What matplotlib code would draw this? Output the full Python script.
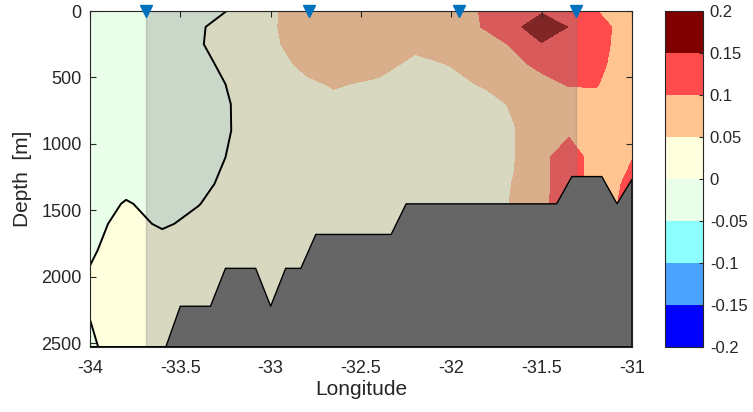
import numpy as np
import matplotlib
matplotlib.use("Agg")
import matplotlib.pyplot as plt
from matplotlib.colors import ListedColormap, BoundaryNorm
from matplotlib.cm import ScalarMappable
from matplotlib.patches import Rectangle

plt.rcParams["font.family"] = ["Liberation Sans", "DejaVu Sans"]
plt.rcParams["axes.unicode_minus"] = False

# section grid (longitude x depth)
lon = [-34.0, -33.8, -33.6, -33.4, -33.2, -33.0, -32.8, -32.65, -32.4,
       -32.2, -32.0, -31.8, -31.65, -31.5, -31.35, -31.2, -31.1, -31.0]
depth = [0, 120, 250, 400, 550, 700, 900, 1100, 1300, 1450,
         1600, 1800, 2000, 2250, 2530]

anom = [
    [-0.030, -0.030, -0.025, -0.020, 0.0056, 0.046, 0.064, 0.070, 0.075, 0.080, 0.085, 0.105, 0.125, 0.142, 0.140, 0.101, 0.090, 0.080],
    [-0.030, -0.030, -0.020, -0.003, 0.012, 0.047, 0.062, 0.068, 0.072, 0.075, 0.082, 0.104, 0.135, 0.190, 0.148, 0.120, 0.097, 0.085],
    [-0.030, -0.028, -0.018, -0.003, 0.017, 0.046, 0.060, 0.066, 0.066, 0.056, 0.068, 0.088, 0.104, 0.145, 0.135, 0.120, 0.095, 0.080],
    [-0.030, -0.028, -0.020, -0.010, 0.012, 0.040, 0.056, 0.062, 0.058, 0.044, 0.051, 0.070, 0.092, 0.108, 0.120, 0.115, 0.090, 0.075],
    [-0.030, -0.028, -0.022, -0.012, 0.004, 0.035, 0.046, 0.052, 0.046, 0.040, 0.044, 0.053, 0.070, 0.090, 0.102, 0.103, 0.085, 0.072],
    [-0.030, -0.027, -0.022, -0.014, 0.0016, 0.030, 0.040, 0.044, 0.040, 0.038, 0.040, 0.043, 0.053, 0.075, 0.085, 0.085, 0.080, 0.070],
    [-0.028, -0.025, -0.022, -0.014, 0.0014, 0.025, 0.035, 0.038, 0.035, 0.036, 0.038, 0.042, 0.049, 0.070, 0.090, 0.080, 0.080, 0.075],
    [-0.025, -0.020, -0.020, -0.012, 0.004, 0.022, 0.030, 0.035, 0.035, 0.035, 0.038, 0.042, 0.049, 0.085, 0.130, 0.076, 0.085, 0.098],
    [-0.020, -0.010, -0.015, -0.008, 0.010, 0.020, 0.030, 0.035, 0.035, 0.035, 0.040, 0.042, 0.051, 0.085, 0.130, 0.076, 0.090, 0.115],
    [-0.015, 0.0025, -0.010, -0.001, 0.015, 0.020, 0.030, 0.035, 0.035, 0.035, 0.040, 0.042, 0.052, 0.090, 0.125, 0.076, 0.095, 0.120],
    [-0.010, 0.010, -0.004, 0.008, 0.020, 0.020, 0.030, 0.035, 0.035, 0.035, 0.040, 0.042, 0.052, 0.090, 0.120, 0.076, 0.095, 0.120],
    [-0.004, 0.015, 0.016, 0.020, 0.025, 0.020, 0.030, 0.035, 0.035, 0.035, 0.040, 0.042, 0.052, 0.090, 0.120, 0.076, 0.095, 0.120],
    [0.003, 0.015, 0.020, 0.025, 0.030, 0.020, 0.030, 0.035, 0.035, 0.035, 0.040, 0.042, 0.052, 0.090, 0.120, 0.076, 0.095, 0.120],
    [0.001, 0.012, 0.020, 0.025, 0.030, 0.020, 0.030, 0.035, 0.035, 0.035, 0.040, 0.042, 0.052, 0.090, 0.120, 0.076, 0.095, 0.120],
    [-0.003, 0.010, 0.020, 0.025, 0.030, 0.020, 0.030, 0.035, 0.035, 0.035, 0.040, 0.042, 0.052, 0.090, 0.120, 0.076, 0.095, 0.120],
]

levels = [-0.2, -0.15, -0.1, -0.05, 0, 0.05, 0.1, 0.15, 0.2]
level_labels = ["-0.2", "-0.15", "-0.1", "-0.05", "0", "0.05", "0.1", "0.15", "0.2"]
level_colors = ["#0000FF", "#4AA3FF", "#8CFFFF", "#EAFFEA",
                "#FFFFDE", "#FFC48F", "#FF4B4B", "#800000"]

# bottom topography
bathy_lon = [-34.0, -33.58, -33.5, -33.333, -33.25, -33.083, -33.0, -32.917,
             -32.833, -32.75, -32.333, -32.25, -31.417, -31.333, -31.167,
             -31.083, -31.0, -31.0]
bathy_depth = [2525, 2525, 2220, 2220, 1935, 1935, 2220, 1935,
               1935, 1680, 1680, 1450, 1450, 1245, 1245,
               1450, 1265, 2525]

stations = [-33.69, -32.79, -31.96, -31.31]

cmap = ListedColormap(level_colors)
norm = BoundaryNorm(levels, cmap.N)

fig = plt.figure(figsize=(7.53, 4.12), dpi=100)
ax = fig.add_axes([0.1195, 0.1566, 0.7198, 0.8167])

Z = np.array(anom)
ax.contourf(lon, depth, Z, levels=levels, cmap=cmap, norm=norm)
ax.contour(lon, depth, Z, levels=[0], colors="k", linewidths=1.4)

# shaded box between the outer stations
ax.add_patch(Rectangle((stations[0], 0), stations[-1] - stations[0], 2530,
                       facecolor="0.5", edgecolor="0.45", alpha=0.3, lw=1))

ax.fill(bathy_lon, bathy_depth, facecolor="#666666", edgecolor="k", lw=1, zorder=3)

ax.plot(stations, [0] * len(stations), "v", color="#0072BD", ms=9,
        clip_on=False, zorder=10)

ax.set_xlim(-34, -31)
ax.set_ylim(2530, 0)
ax.set_xticks(np.arange(-34, -30.9, 0.5))
ax.set_xticklabels(["-34", "-33.5", "-33", "-32.5", "-32", "-31.5", "-31"])
ax.set_yticks(range(0, 2501, 500))
ax.tick_params(direction="in", top=True, right=True, length=4,
               labelsize=13, color="0.15", labelcolor="0.15", pad=6)
ax.tick_params(axis="x", pad=9)
for s in ax.spines.values():
    s.set_color("0.15")
    s.set_linewidth(0.8)
ax.set_xlabel("Longitude", fontsize=15, color="0.15", labelpad=2)
ax.set_ylabel("Depth  [m]", fontsize=15, color="0.15", labelpad=7)

cax = fig.add_axes([0.883, 0.1566, 0.0505, 0.8167])
cb = fig.colorbar(ScalarMappable(norm=norm, cmap=cmap), cax=cax, ticks=levels)
cb.ax.set_yticklabels(level_labels)
cb.ax.tick_params(direction="in", length=3, labelsize=12, color="0.15",
                  labelcolor="0.15", pad=5)
cb.outline.set_edgecolor("0.15")
cb.outline.set_linewidth(0.8)

fig.savefig("out.png", dpi=100)
